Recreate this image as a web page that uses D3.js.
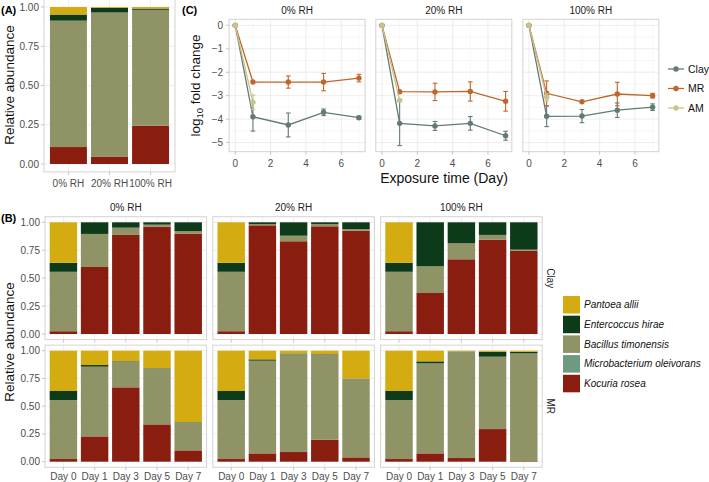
<!DOCTYPE html>
<html><head><meta charset="utf-8">
<script src="https://cdn.jsdelivr.net/npm/d3@7"></script>
<style>body{margin:0;background:#fff}svg{font-family:"Liberation Sans",Arial,sans-serif}</style>
</head><body><svg id="c" width="709" height="482"></svg>
<script>
// ---------------- DATA ----------------
// species, legend order (top of stack first)
const speciesNames = ["Pantoea allii","Entercoccus hirae","Bacillus timonensis","Microbacterium oleivorans","Kocuria rosea"];
const speciesKeys = ["pantoea","entero","bacillus","micro","kocuria"];
const speciesColors = ["#d4ab11","#0d3a19","#8f9366","#6d9a80","#891d10"];

const rhLabels = ["0% RH","20% RH","100% RH"];
const substrates = ["Clay","MR"];
const dayLabels = ["Day 0","Day 1","Day 3","Day 5","Day 7"];

// Panel A: relative abundance by RH
const A_kocuria  = [0.108, 0.045, 0.244];
const A_micro    = [0, 0, 0];
const A_bacillus = [0.805, 0.920, 0.738];
const A_entero   = [0.039, 0.030, 0.008];
const A_pantoea  = [0.048, 0.005, 0.010];

// Panel B: [substrate][rh][day]
const B_kocuria = [
  [[0.025,0.600,0.887,0.961,0.899],[0.025,0.973,0.830,0.964,0.925],[0.025,0.367,0.669,0.845,0.746]],
  [[0.024,0.228,0.670,0.336,0.102],[0.024,0.075,0.087,0.198,0.039],[0.024,0.075,0.033,0.294,0.005]]
];
const B_micro = [
  [[0,0,0,0,0],[0,0,0,0,0],[0,0,0,0,0]],
  [[0,0,0,0,0],[0,0,0,0,0],[0,0,0,0,0]]
];
const B_bacillus = [
  [[0.532,0.296,0.065,0.018,0.023],[0.532,0.012,0.050,0.021,0.015],[0.532,0.239,0.143,0.042,0.009]],
  [[0.532,0.628,0.234,0.508,0.252],[0.532,0.835,0.886,0.769,0.712],[0.532,0.811,0.957,0.652,0.971]]
];
const B_entero = [
  [[0.081,0.104,0.048,0.021,0.078],[0.081,0.015,0.120,0.015,0.060],[0.081,0.394,0.188,0.113,0.245]],
  [[0.081,0.015,0.003,0.000,0.003],[0.081,0.012,0.003,0.003,0.000],[0.081,0.018,0.003,0.045,0.014]]
];
const B_pantoea = [
  [[0.362,0,0,0,0],[0.362,0,0,0,0],[0.362,0,0,0,0]],
  [[0.363,0.129,0.093,0.156,0.643],[0.363,0.078,0.024,0.030,0.249],[0.363,0.096,0.007,0.009,0.010]]
];

// Panel C: log10 fold change, by RH
const C_days = [0,1,3,5,7];
const C_daysAM = [0,1];
const clayMean = [[0,-3.90,-4.25,-3.71,-3.94],[0,-4.18,-4.29,-4.18,-4.71],[0,-3.88,-3.87,-3.62,-3.49]];
const claySE   = [[0,0.61,0.51,0.14,0.06],[0,0.95,0.19,0.29,0.19],[0,0.44,0.28,0.31,0.14]];
const mrMean   = [[0,-2.42,-2.42,-2.42,-2.25],[0,-2.83,-2.84,-2.82,-3.24],[0,-2.90,-3.26,-2.93,-3.00]];
const mrSE     = [[0,0,0.26,0.37,0.16],[0,0.05,0.37,0.41,0.42],[0,0.53,0,0.50,0.10]];
const amMean   = [[0,-3.28],[0,-3.20],[0,-3.07]];
const amSE     = [[0,0.31],[0,0.05],[0,0.15]];
const seriesNames = ["Clay","MR","AM"];
const seriesColors = ["#637b71","#c0662a","#c7c38c"];

const yTicksAB = [0,0.25,0.5,0.75,1];
const yTicksC = [0,-1,-2,-3,-4,-5];
const xTicksC = [0,2,4,6];

// ---------------- DRAWING ----------------
const svg = d3.select("#c");
const BORDER="#d3d3d3", GRID="#e8e8e8", GRIDMINOR="#f3f3f3", TICKTXT="#4d4d4d", TICK="#c4c4c4";

function stackRows(rows){
  const st = d3.stack().keys(["kocuria","micro","bacillus","entero","pantoea"]);
  return st(rows);
}

function barPanel(g, labels, rows, x, y, x0, x1, y0, y1, showX, showY, xLabelY){
  // grid
  const yMinor = [0.125,0.375,0.625,0.875];
  g.selectAll(".gmn").data(yMinor).join("line").attr("x1",x0).attr("x2",x1)
    .attr("y1",d=>y(d)).attr("y2",d=>y(d)).attr("stroke",GRIDMINOR).attr("stroke-width",0.5);
  g.selectAll(".gmj").data(yTicksAB).join("line").attr("x1",x0).attr("x2",x1)
    .attr("y1",d=>y(d)).attr("y2",d=>y(d)).attr("stroke",GRID).attr("stroke-width",0.7);
  g.selectAll(".gv").data(labels).join("line").attr("y1",y0).attr("y2",y1)
    .attr("x1",d=>x(d)+x.bandwidth()/2).attr("x2",d=>x(d)+x.bandwidth()/2).attr("stroke",GRID).attr("stroke-width",0.7);
  const series = stackRows(rows);
  const colorOf = k => speciesColors[speciesKeys.indexOf(k)];
  series.forEach(s=>{
    g.append("g").selectAll("rect").data(s).join("rect")
      .attr("x",d=>x(d.data.label)).attr("width",x.bandwidth())
      .attr("y",d=>y(d[1])).attr("height",d=>Math.max(0,y(d[0])-y(d[1])))
      .attr("fill",colorOf(s.key));
  });
  g.append("rect").attr("x",x0).attr("y",y1).attr("width",x1-x0).attr("height",y0-y1)
    .attr("fill","none").attr("stroke",BORDER).attr("stroke-width",1);
  if(showY){
    yTicksAB.forEach(t=>{
      g.append("line").attr("x1",x0-3).attr("x2",x0).attr("y1",y(t)).attr("y2",y(t)).attr("stroke",TICK);
      g.append("text").attr("x",x0-5).attr("y",y(t)).attr("dy","0.35em").attr("text-anchor","end")
        .attr("font-size",10).attr("fill",TICKTXT).text(d3.format(".2f")(t));
    });
  }
  labels.forEach(l=>{
    const cx = x(l)+x.bandwidth()/2;
    g.append("line").attr("x1",cx).attr("x2",cx).attr("y1",y0).attr("y2",y0+3).attr("stroke",TICK);
    if(showX) g.append("text").attr("x",cx).attr("y",xLabelY).attr("text-anchor","middle")
      .attr("font-size",10).attr("fill",TICKTXT).text(l);
  });
}

// ----- Panel A -----
{
  const g = svg.append("g");
  const x0=44, x1=175;
  const x = d3.scaleBand().domain(rhLabels).range([x0,x1]).paddingInner(0.1).paddingOuter(0.145);
  const y = d3.scaleLinear().domain([0,1]).range([164,7]);
  const rows = rhLabels.map((l,i)=>({label:l,kocuria:A_kocuria[i],micro:A_micro[i],bacillus:A_bacillus[i],entero:A_entero[i],pantoea:A_pantoea[i]}));
  barPanel(g, rhLabels, rows, x, y, x0, x1, y(-0.05), y(1.05), true, true, 186.5);
  svg.append("text").attr("transform","translate(14,85) rotate(-90)").attr("text-anchor","middle")
    .attr("font-size",13.5).attr("fill","#111").text("Relative abundance");
  svg.append("text").attr("x",1).attr("y",14).attr("font-size",11).attr("font-weight","bold").text("(A)");
}

// ----- Panel B -----
{
  const rowsY = [{y0:334,y1:222.3},{y0:461.7,y1:350.7}];
  substrates.forEach((sub,si)=>{
    rhLabels.forEach((rh,ri)=>{
      const g = svg.append("g");
      const x0 = 45 + ri*167.8, x1 = x0 + 161.6;
      const x = d3.scaleBand().domain(dayLabels).range([x0,x1]).paddingInner(0.12).paddingOuter(0.15);
      const y = d3.scaleLinear().domain([0,1]).range([rowsY[si].y0, rowsY[si].y1]);
      const rows = dayLabels.map((l,di)=>({label:l,kocuria:B_kocuria[si][ri][di],micro:B_micro[si][ri][di],
        bacillus:B_bacillus[si][ri][di],entero:B_entero[si][ri][di],pantoea:B_pantoea[si][ri][di]}));
      barPanel(g, dayLabels, rows, x, y, x0, x1, y(-0.05), y(1.05), si===1, ri===0, 479.5);
      if(si===0) svg.append("text").attr("x",(x0+x1)/2).attr("y",210.5).attr("text-anchor","middle")
        .attr("font-size",10).attr("fill","#222").text(rh);
      if(ri===2) svg.append("text").attr("transform",`translate(${x1+5},${(y(-0.05)+y(1.05))/2}) rotate(90)`)
        .attr("text-anchor","middle").attr("font-size",10).attr("fill","#222").text(sub);
    });
  });
  svg.append("text").attr("transform","translate(14,342) rotate(-90)").attr("text-anchor","middle")
    .attr("font-size",13.5).attr("fill","#111").text("Relative abundance");
  svg.append("text").attr("x",1).attr("y",222).attr("font-size",11).attr("font-weight","bold").text("(B)");
  // legend
  speciesNames.forEach((n,i)=>{
    const ty = 296 + i*19.7;
    svg.append("rect").attr("x",563).attr("y",ty).attr("width",17).attr("height",17.5).attr("fill",speciesColors[i]);
    svg.append("text").attr("x",584).attr("y",ty+8.75).attr("dy","0.35em").attr("font-size",10)
      .attr("font-style","italic").attr("fill","#111").text(n);
  });
}

// ----- Panel C -----
{
  const lefts = [229.1, 375.8, 522.8], W = 136;
  const y = d3.scaleLinear().domain([-5.39,0.257]).range([151.7,19.3]);
  rhLabels.forEach((rh,ri)=>{
    const g = svg.append("g");
    const x0 = lefts[ri], x1 = x0 + W;
    const x = d3.scaleLinear().domain([-0.35,7.35]).range([x0,x1]);
    // grid
    [1,3,5,7].forEach(t=>g.append("line").attr("x1",x(t)).attr("x2",x(t)).attr("y1",y.range()[0]).attr("y2",y.range()[1]).attr("stroke",GRIDMINOR).attr("stroke-width",0.6));
    [-0.5,-1.5,-2.5,-3.5,-4.5].forEach(t=>g.append("line").attr("y1",y(t)).attr("y2",y(t)).attr("x1",x0).attr("x2",x1).attr("stroke",GRIDMINOR).attr("stroke-width",0.6));
    xTicksC.forEach(t=>g.append("line").attr("x1",x(t)).attr("x2",x(t)).attr("y1",y.range()[0]).attr("y2",y.range()[1]).attr("stroke",GRID).attr("stroke-width",0.8));
    yTicksC.forEach(t=>g.append("line").attr("y1",y(t)).attr("y2",y(t)).attr("x1",x0).attr("x2",x1).attr("stroke",GRID).attr("stroke-width",0.8));
    const sets = [
      {days:C_days, m:clayMean[ri], se:claySE[ri], c:seriesColors[0]},
      {days:C_days, m:mrMean[ri], se:mrSE[ri], c:seriesColors[1]},
      {days:C_daysAM, m:amMean[ri], se:amSE[ri], c:seriesColors[2]}
    ];
    const line = d3.line().x(d=>x(d.d)).y(d=>y(d.m));
    sets.forEach(s=>{
      const pts = s.days.map((d,i)=>({d, m:s.m[i], se:s.se[i]}));
      g.append("path").attr("d",line(pts)).attr("fill","none").attr("stroke",s.c).attr("stroke-width",1.3);
      pts.forEach(p=>{
        if(p.se>0){
          g.append("line").attr("x1",x(p.d)).attr("x2",x(p.d)).attr("y1",y(p.m-p.se)).attr("y2",y(p.m+p.se)).attr("stroke",s.c).attr("stroke-width",1.1);
          [p.m-p.se,p.m+p.se].forEach(v=>g.append("line").attr("x1",x(p.d)-2.3).attr("x2",x(p.d)+2.3).attr("y1",y(v)).attr("y2",y(v)).attr("stroke",s.c).attr("stroke-width",1.1));
        }
        g.append("circle").attr("cx",x(p.d)).attr("cy",y(p.m)).attr("r",2.7).attr("fill",s.c);
      });
    });
    g.append("rect").attr("x",x0).attr("y",y.range()[1]).attr("width",W).attr("height",y.range()[0]-y.range()[1])
      .attr("fill","none").attr("stroke",BORDER).attr("stroke-width",1);
    xTicksC.forEach(t=>{
      g.append("line").attr("x1",x(t)).attr("x2",x(t)).attr("y1",y.range()[0]).attr("y2",y.range()[0]+3).attr("stroke",TICK);
      g.append("text").attr("x",x(t)).attr("y",167).attr("text-anchor","middle").attr("font-size",10).attr("fill",TICKTXT).text(t);
    });
    if(ri===0) yTicksC.forEach(t=>{
      g.append("line").attr("x1",x0-3).attr("x2",x0).attr("y1",y(t)).attr("y2",y(t)).attr("stroke",TICK);
      g.append("text").attr("x",x0-6).attr("y",y(t)).attr("dy","0.35em").attr("text-anchor","end").attr("font-size",10).attr("fill",TICKTXT).text(t===0?"0":"\u2212"+Math.abs(t));
    });
    svg.append("text").attr("x",(x0+x1)/2).attr("y",13.5).attr("text-anchor","middle").attr("font-size",10).attr("fill","#222").text(rh);
  });
  svg.append("text").attr("x",444).attr("y",183).attr("text-anchor","middle").attr("font-size",14).attr("fill","#111").text("Exposure time (Day)");
  const yl = svg.append("text").attr("transform","translate(200,85.5) rotate(-90)").attr("text-anchor","middle").attr("font-size",13.5).attr("fill","#111");
  yl.append("tspan").text("log");
  yl.append("tspan").attr("font-size",9.5).attr("dy",3).text("10");
  yl.append("tspan").attr("dy",-3).text(" fold change");
  svg.append("text").attr("x",182).attr("y",14).attr("font-size",11).attr("font-weight","bold").text("(C)");
  seriesNames.forEach((n,i)=>{
    const cy = 69 + i*19.5;
    svg.append("line").attr("x1",668).attr("x2",684).attr("y1",cy).attr("y2",cy).attr("stroke",seriesColors[i]).attr("stroke-width",1.3);
    svg.append("circle").attr("cx",676).attr("cy",cy).attr("r",2.7).attr("fill",seriesColors[i]);
    svg.append("text").attr("x",688).attr("y",cy).attr("dy","0.35em").attr("font-size",10.5).attr("fill","#111").text(n);
  });
}
</script></body></html>
